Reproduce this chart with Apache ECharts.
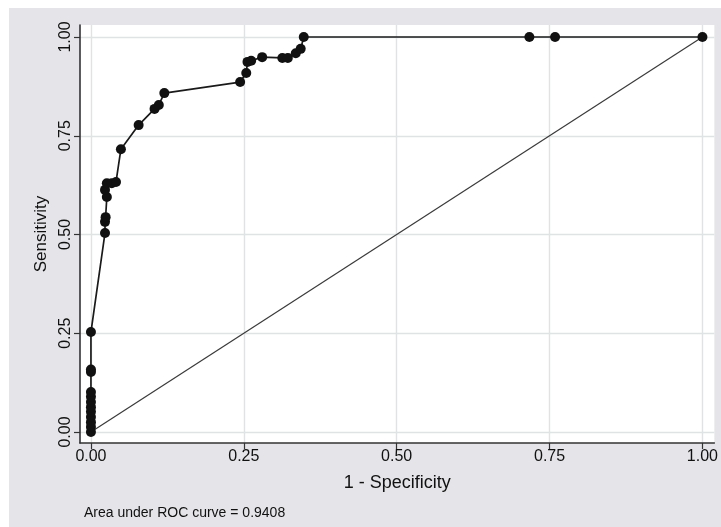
<!DOCTYPE html>
<html>
<head>
<meta charset="utf-8">
<script src="https://cdn.jsdelivr.net/npm/echarts@6/dist/echarts.min.js"></script>
<style>html,body{margin:0;padding:0;background:#fff}#c{width:721px;height:527px}</style>
</head>
<body>
<div id="c"></div>
<script>
// ROC curve points (1 - specificity, sensitivity)
const fpr = [0, 0, 0, 0, 0, 0, 0, 0, 0, 0, 0, 0,
  0.023, 0.023, 0.024, 0.026, 0.023, 0.026, 0.034, 0.041, 0.049, 0.078,
  0.104, 0.111, 0.120, 0.244, 0.254, 0.256, 0.262, 0.280, 0.313, 0.322,
  0.335, 0.343, 0.348, 0.717, 0.759, 1.0];
const tpr = [0, 0.013, 0.025, 0.038, 0.051, 0.063, 0.076, 0.089, 0.101, 0.152, 0.158, 0.253,
  0.504, 0.532, 0.544, 0.595, 0.613, 0.630, 0.630, 0.633, 0.716, 0.777,
  0.818, 0.828, 0.858, 0.886, 0.909, 0.937, 0.940, 0.949, 0.947, 0.947,
  0.959, 0.970, 1.0, 1.0, 1.0, 1.0];
// reference line
const refX = [0, 1];
const refY = [0, 1];
const ticks = [0, 0.25, 0.5, 0.75, 1];
const xTitle = '1 - Specificity';
const yTitle = 'Sensitivity';
const note = 'Area under ROC curve = 0.9408';

const chart = echarts.init(document.getElementById('c'));
const fmt = v => Number(v).toFixed(2);
const gridMarks = ticks.map(t => ({xAxis: t})).concat(ticks.map(t => ({yAxis: t})));
chart.setOption({
  animation: false,
  backgroundColor: '#ffffff',
  graphic: [
    {type: 'rect', z: -10, shape: {x: 9, y: 8, width: 712, height: 519}, style: {fill: '#e5e5e9'}},
    {type: 'text', left: 84, top: 506, style: {text: note, font: '14px "Liberation Sans", Arial, sans-serif', fill: '#111'}}
  ],
  grid: {left: 80, right: 3, top: 25, bottom: 84, show: true, backgroundColor: '#ffffff', borderWidth: 0},
  xAxis: {
    type: 'value', min: -0.0179, max: 1.0195,
    name: xTitle, nameLocation: 'middle', nameGap: 31,
    nameTextStyle: {fontSize: 18, color: '#111', fontFamily: 'Liberation Sans'},
    axisLine: {show: true, onZero: false, lineStyle: {color: '#333', width: 1.6}},
    axisTick: {show: true, customValues: ticks, length: 6, lineStyle: {color: '#333', width: 1.2}},
    axisLabel: {show: true, customValues: ticks, formatter: fmt, fontSize: 16, color: '#111', fontFamily: 'Liberation Sans', margin: 6},
    splitLine: {show: false}
  },
  yAxis: {
    type: 'value', min: -0.0278, max: 1.0304,
    name: yTitle, nameLocation: 'middle', nameGap: 30, nameRotate: 90,
    nameTextStyle: {fontSize: 17, color: '#111', fontFamily: 'Liberation Sans'},
    axisLine: {show: true, onZero: false, lineStyle: {color: '#333', width: 1.6}},
    axisTick: {show: true, customValues: ticks, length: 6, lineStyle: {color: '#333', width: 1.2}},
    axisLabel: {show: true, customValues: ticks, formatter: fmt, fontSize: 16, color: '#111', fontFamily: 'Liberation Sans', rotate: 90, margin: 6},
    splitLine: {show: false}
  },
  series: [
    {
      type: 'line', z: 1, silent: true,
      data: refX.map((x, i) => [x, refY[i]]),
      symbol: 'none',
      lineStyle: {color: '#3a3a3a', width: 1.2},
      markLine: {
        z: 0, silent: true, symbol: 'none', label: {show: false},
        lineStyle: {color: '#dfe3e4', width: 1.4, type: 'solid'},
        data: gridMarks
      }
    },
    {
      type: 'line', z: 3,
      data: fpr.map((x, i) => [x, tpr[i]]),
      symbol: 'circle', symbolSize: 10, showAllSymbol: true,
      itemStyle: {color: '#111'},
      lineStyle: {color: '#1a1a1a', width: 1.7}
    }
  ]
});
</script>
</body>
</html>
